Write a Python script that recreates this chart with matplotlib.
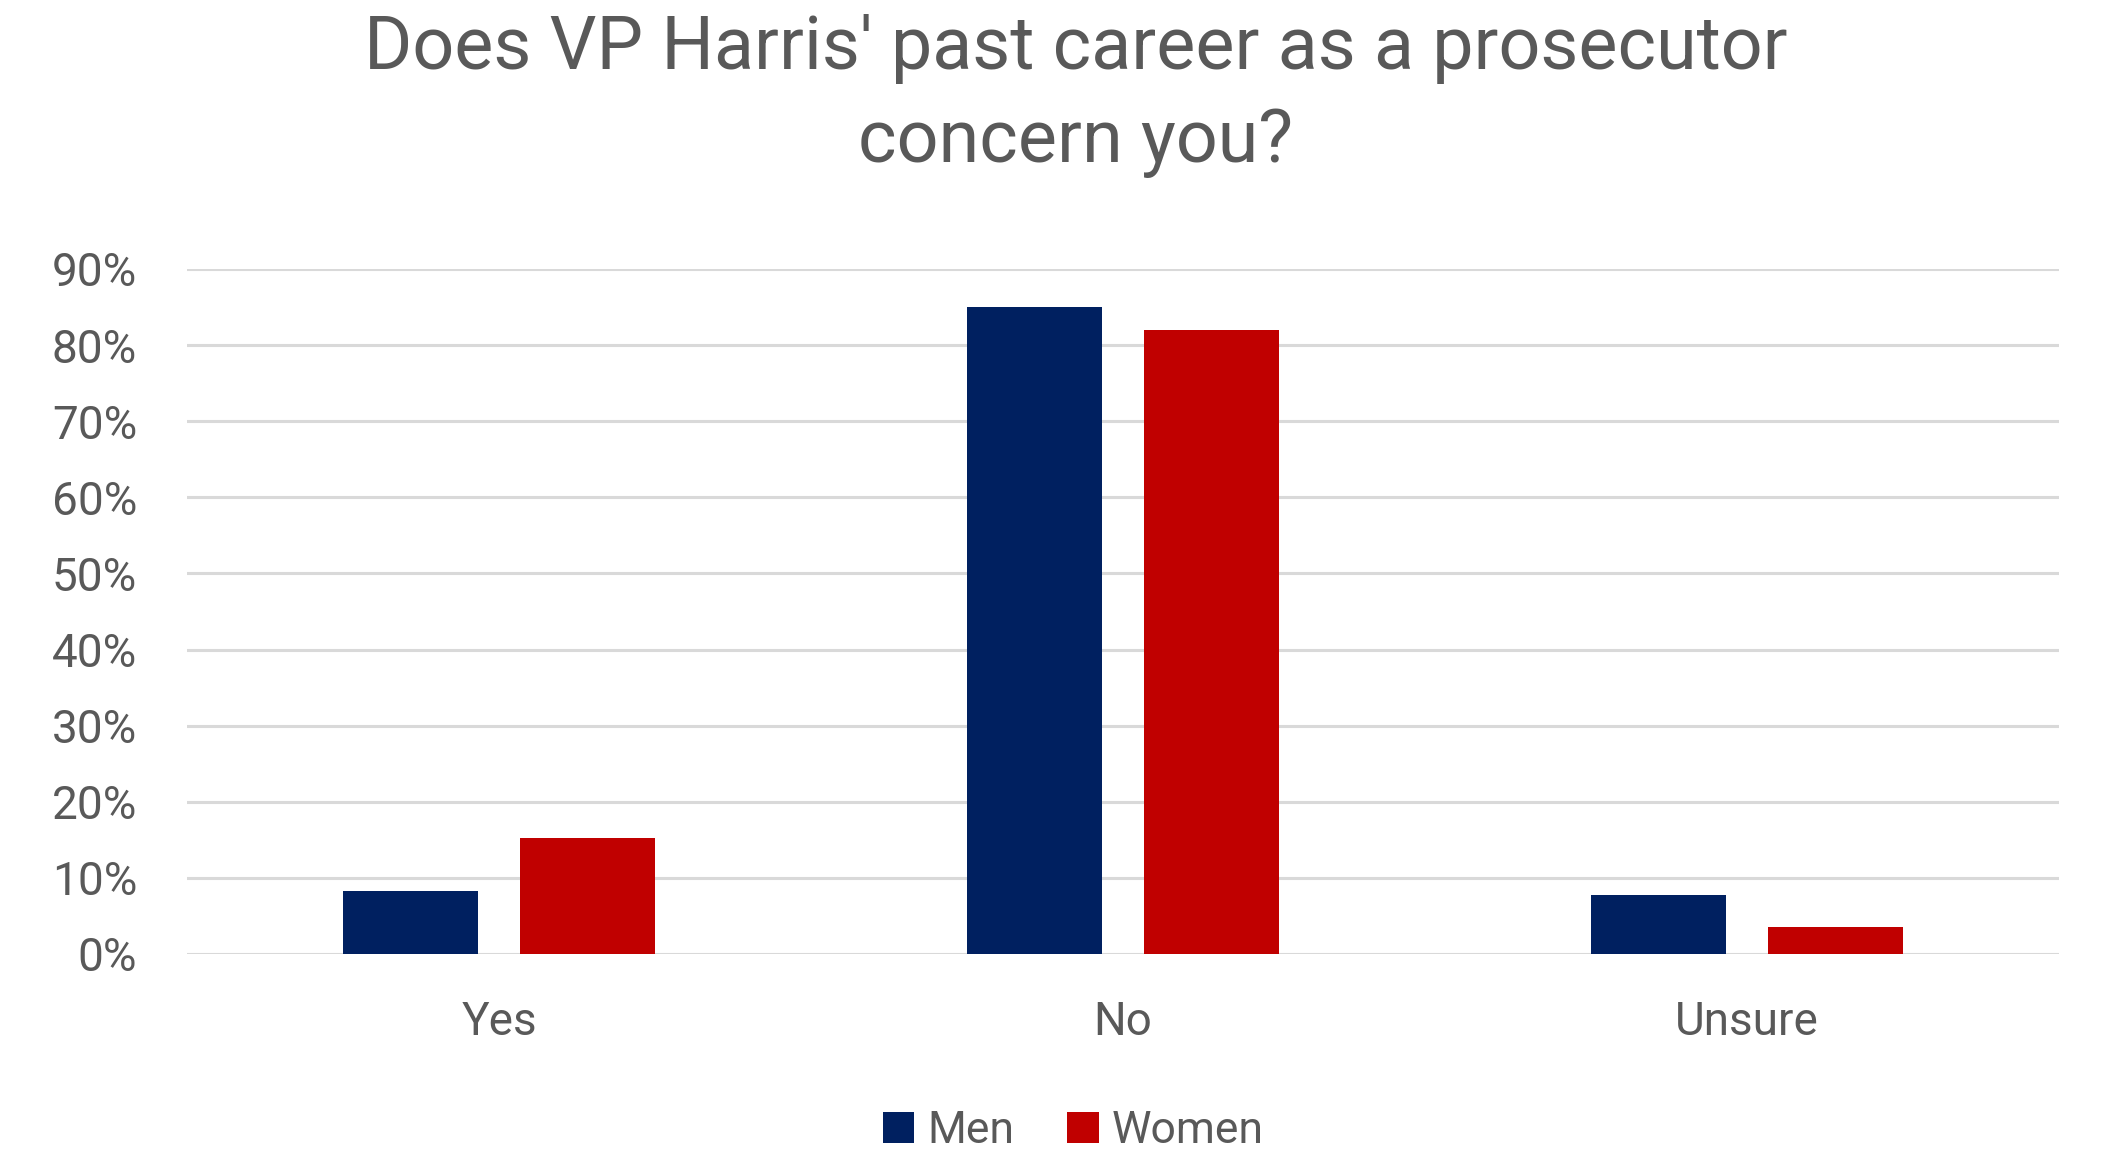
import matplotlib
matplotlib.use("Agg")
import matplotlib.pyplot as plt
import numpy as np
from matplotlib.ticker import PercentFormatter

# values (fraction)
categories = ["Yes", "No", "Unsure"]
men = [0.083, 0.85, 0.078]
women = [0.153, 0.82, 0.036]
series_names = ["Men", "Women"]
yticks = [0, 0.1, 0.2, 0.3, 0.4, 0.5, 0.6, 0.7, 0.8, 0.9]

navy = "#002060"
red = "#C00000"
grey_txt = "#595959"
grid_col = "#D9D9D9"

plt.rcParams['font.family'] = ['Roboto', 'DejaVu Sans']

fig = plt.figure(figsize=(21.21, 11.52), dpi=100)
ax = fig.add_axes([0.0882, 0.1719, 0.8826, 0.5946])

x = np.arange(len(categories))
w = 0.217
off = 0.142
ax.bar(x - off, men, width=w, color=navy, label=series_names[0], zorder=3)
ax.bar(x + off, women, width=w, color=red, label=series_names[1], zorder=3)

ax.set_xlim(-0.5, len(categories) - 0.5)
ax.set_ylim(0, 0.9)
ax.set_yticks(yticks)
ax.yaxis.set_major_formatter(PercentFormatter(1.0, decimals=0))
ax.set_xticks(x)
ax.set_xticklabels(categories)

ax.grid(axis='y', color=grid_col, linewidth=2.2, zorder=0)
ax.set_axisbelow(True)
for s in ax.spines.values():
	s.set_visible(False)
ax.tick_params(axis='both', length=0, labelsize=33, colors=grey_txt)
ax.tick_params(axis='y', pad=36)
ax.tick_params(axis='x', pad=33)

fig.text(0.507, 0.917, "Does VP Harris' past career as a prosecutor\nconcern you?",
	ha='center', va='center', fontsize=53, color=grey_txt, linespacing=1.4)

fig.legend(loc='center', bbox_to_anchor=(0.506, 0.018), ncol=2, frameon=False,
	fontsize=32, labelcolor=grey_txt, handlelength=0.7, handleheight=0.7,
	handletextpad=0.3, columnspacing=1.2)

fig.savefig("out.png", dpi=100)
